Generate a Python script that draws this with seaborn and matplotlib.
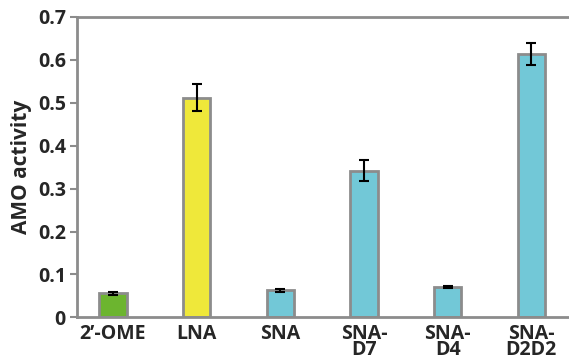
import numpy as np
import pandas as pd
import matplotlib
matplotlib.use('Agg')
import matplotlib.pyplot as plt
import seaborn as sns

# data
labels = ["2\u2019-OME", "LNA", "SNA", "SNA-\nD7", "SNA-\nD4", "SNA-\nD2D2"]
activity = [0.056, 0.512, 0.063, 0.342, 0.071, 0.614]
errors = [0.003, 0.031, 0.003, 0.025, 0.002, 0.026]
colors = ["#6cb52f", "#efe83a", "#72c8d7", "#72c8d7", "#72c8d7", "#72c8d7"]

df = pd.DataFrame({"label": labels, "activity": activity})

sns.set_style("white")
plt.rcParams['font.family'] = ['Open Sans', 'DejaVu Sans']

fig = plt.figure(figsize=(5.69, 3.61), dpi=100)
ax = fig.add_axes([0.1353, 0.121, 0.875, 0.832])

sns.barplot(data=df, x="label", y="activity", hue="label", palette=colors,
            saturation=1, legend=False, width=0.33, edgecolor="#8c8c8c",
            linewidth=2, ax=ax)
ax.errorbar(np.arange(len(labels)), activity, yerr=errors, fmt='none',
            ecolor='black', elinewidth=1.5, capsize=3.5, capthick=1.5)

ax.set_ylim(0, 0.7)
ax.set_xlim(-0.43, 5.52)
ax.set_yticks(np.arange(0, 0.71, 0.1))
ax.set_yticklabels(["0", "0.1", "0.2", "0.3", "0.4", "0.5", "0.6", "0.7"],
                   fontsize=14, fontweight='bold')
ax.set_xticks(np.arange(len(labels)))
ax.set_xticklabels(labels, fontsize=14, fontweight='bold', linespacing=0.75)
ax.set_xlabel("")
ax.set_ylabel("AMO activity", fontsize=15, fontweight='bold', labelpad=4)

for s in ax.spines.values():
    s.set_color("#8c8c8c")
    s.set_linewidth(2)
ax.tick_params(axis='y', left=True, length=5, width=1.5, color="#8c8c8c", pad=3)
ax.tick_params(axis='x', bottom=False, pad=1)

fig.savefig("out.png", dpi=100)
